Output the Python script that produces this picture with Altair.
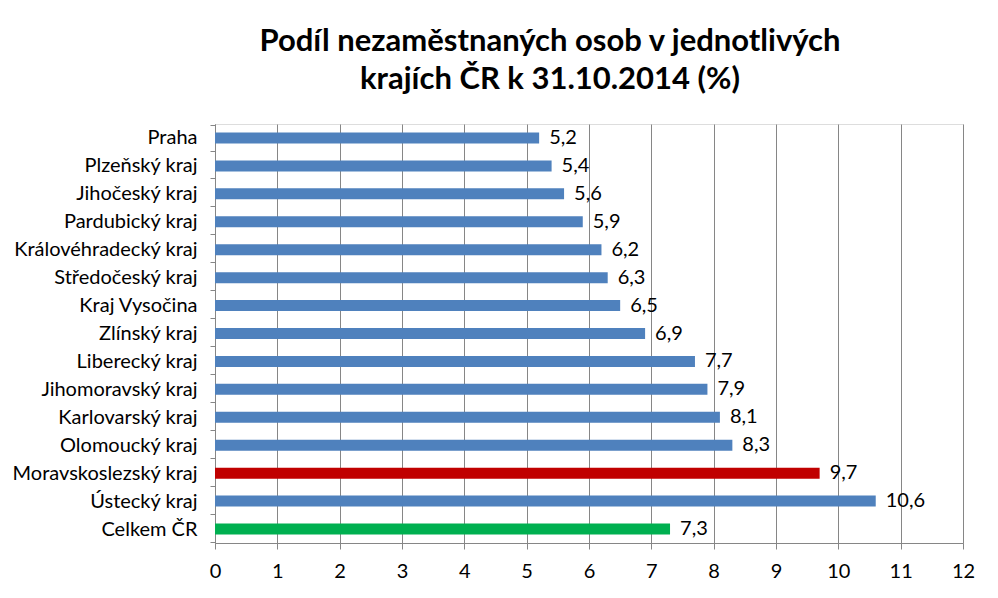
import altair as alt
import pandas as pd

regions = ["Praha", "Plzeňský kraj", "Jihočeský kraj", "Pardubický kraj",
           "Královéhradecký kraj", "Středočeský kraj", "Kraj Vysočina", "Zlínský kraj",
           "Liberecký kraj", "Jihomoravský kraj", "Karlovarský kraj", "Olomoucký kraj",
           "Moravskoslezský kraj", "Ústecký kraj", "Celkem ČR"]
values = [5.2, 5.4, 5.6, 5.9, 6.2, 6.3, 6.5, 6.9, 7.7, 7.9, 8.1, 8.3, 9.7, 10.6, 7.3]
groups = ["kraj"] * 12 + ["msk", "kraj", "cr"]
x_ticks = list(range(13))

df = pd.DataFrame({
    "region": regions,
    "value": values,
    "group": groups,
    "label": [f"{v:.1f}".replace(".", ",") for v in values],
})

FONT = "Lato"

base = alt.Chart(df).encode(
    y=alt.Y("region:N", sort=regions, title=None,
            axis=alt.Axis(tickBand="extent", labelFontSize=20, labelColor="#000000",
                          labelFont=FONT, domainColor="#868686", tickColor="#868686",
                          tickSize=5, labelPadding=13, grid=False, labelLimit=300)),
)

bars = base.mark_bar(size=11).encode(
    x=alt.X("value:Q", scale=alt.Scale(domain=[0, 12]), title=None,
            axis=alt.Axis(values=x_ticks, format="d", labelFontSize=20, labelColor="#000000",
                          labelFont=FONT, domainColor="#868686", tickColor="#868686",
                          tickSize=6, labelPadding=12, labelFlush=False, grid=True,
                          gridColor="#868686", gridWidth=1)),
    color=alt.Color("group:N",
                    scale=alt.Scale(domain=["kraj", "msk", "cr"],
                                    range=["#4F81BD", "#C00000", "#00B050"]),
                    legend=None),
)

labels = base.mark_text(align="left", baseline="middle", dx=10, fontSize=20,
                        font=FONT, color="#000000").encode(
    x=alt.X("value:Q"),
    text="label:N",
)

chart = (bars + labels).properties(
    width=748, height=419,
    autosize=alt.AutoSizeParams(type="none"),
    padding={"left": 215, "top": 124, "right": 35, "bottom": 55},
    title=alt.TitleParams(
        text=["Podíl nezaměstnaných osob v jednotlivých", "krajích ČR k 31.10.2014 (%)"],
        fontSize=31, font=FONT, fontWeight="bold", color="#000000",
        anchor="middle", dx=-39, offset=18, lineHeight=38,
    ),
).configure_view(stroke="#868686", strokeWidth=1).configure(background="white")

chart.save("out.html", embed_options={"renderer": "svg", "actions": False})
